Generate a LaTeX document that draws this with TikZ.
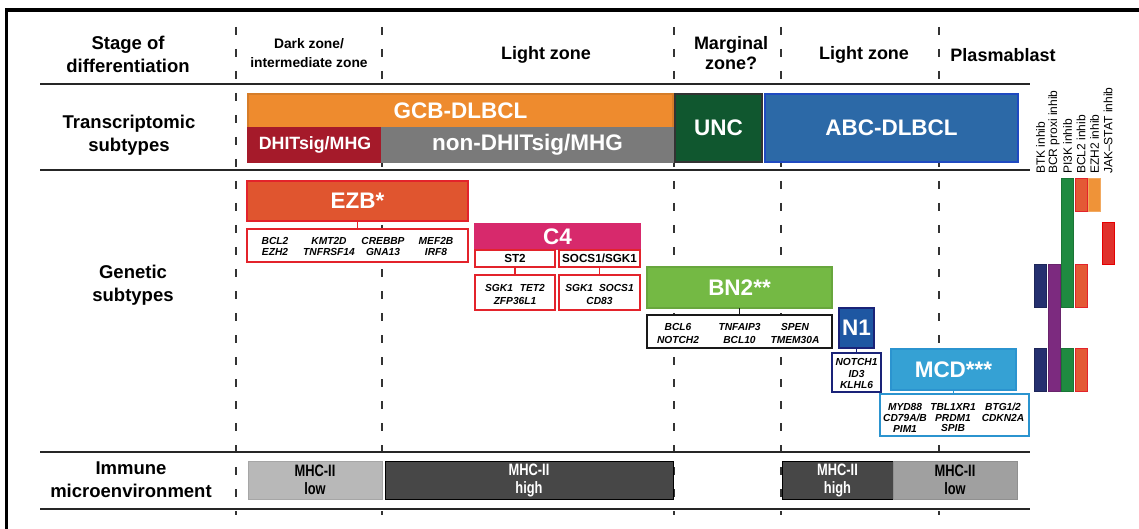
\documentclass[tikz,border=0pt]{standalone}
\usepackage{fontspec}
\setmainfont{Liberation Sans}
\newfontfamily\narrowfont[FakeStretch=0.78]{Liberation Sans}
\definecolor{cGCB}{HTML}{EE8B2E}
\definecolor{cDHIT}{HTML}{A51A2A}
\definecolor{cNon}{HTML}{7A7A7A}
\definecolor{cUNC}{HTML}{10572F}
\definecolor{cABC}{HTML}{2C69A7}
\definecolor{cEZB}{HTML}{E0552F}
\definecolor{cRed}{HTML}{E3232B}
\definecolor{cC4}{HTML}{D7296C}
\definecolor{cBN2}{HTML}{74B944}
\definecolor{cN1}{HTML}{1E57A2}
\definecolor{cNavy}{HTML}{1A2378}
\definecolor{cMCD}{HTML}{35A1D4}
\definecolor{cMCDb}{HTML}{2B94CF}
\definecolor{cLow}{HTML}{B8B8B8}
\definecolor{cHigh}{HTML}{474747}
\definecolor{cLowB}{HTML}{A0A0A0}
\definecolor{cBTK}{HTML}{25306F}
\definecolor{cBCR}{HTML}{7C2A7F}
\definecolor{cPI}{HTML}{1F8A40}
\definecolor{cBCL}{HTML}{E45935}
\definecolor{cEZH}{HTML}{EF9338}
\definecolor{cJAK}{HTML}{E0312C}
\tikzset{
  rowlab/.style={font=\fontsize{18.5}{23}\selectfont\bfseries, align=center, inner sep=0},
  zonelab/.style={font=\fontsize{18}{19}\selectfont\bfseries, align=center, inner sep=0},
  zonesmall/.style={font=\fontsize{13.8}{19}\selectfont\bfseries, align=center, inner sep=0},
  blk/.style={rectangle, inner sep=0, outer sep=0, line width=1.2pt, text=white,
              font=\fontsize{22.5}{25}\selectfont\bfseries},
  gbox/.style={rectangle, draw, fill=white, inner sep=0, outer sep=0, line width=1.6pt},
  subbox/.style={rectangle, draw=cRed, fill=white, inner sep=0, outer sep=0, line width=1.6pt,
                 font=\fontsize{11.7}{12}\selectfont\bfseries},
  gene/.style={font=\fontsize{10.2}{11.5}\selectfont\bfseries\itshape, align=center, inner sep=0},
  conn/.style={line width=1.5pt},
  hline/.style={line width=1.8pt, black!85},
  vdash/.style={line width=1.2pt, black!80, dash pattern=on 8pt off 14pt},
  drug/.style={font=\fontsize{12}{13}\selectfont, rotate=90, anchor=west, inner sep=0},
  bar/.style={line width=1pt},
  mhc/.style={rectangle, inner sep=0, outer sep=0, line width=1pt, align=center,
              font=\narrowfont\fontsize{16.5}{18}\selectfont\bfseries}
}
\begin{document}
\begin{tikzpicture}[x=1pt,y=-1pt]
\useasboundingbox (0,0) rectangle (1139,529);
% frame
\draw[line width=3.5pt, line join=miter] (6.5,529) -- (6.5,10) -- (1139,10);
% dashed zone separators
\foreach \xx in {236,382,674,781,939}
  \draw[vdash] (\xx,27) -- (\xx,515);
% horizontal rules
\draw[hline] (40,84) -- (1030,84);
\draw[hline] (40,170) -- (1030,170);
\draw[hline] (40,452) -- (1030,452);
\draw[hline] (40,509) -- (1030,509);

% header
\node[rowlab] (hstage) at (128,54) {Stage of\\differentiation};
\node[zonesmall] (hdark) at (309,53) {Dark zone/\\intermediate zone};
\node[zonelab] (hlight1) at (546,55) {Light zone};
\node[zonelab, font=\fontsize{18}{19.5}\selectfont\bfseries] (hmarg) at (731,53) {Marginal\\zone?};
\node[zonelab] (hlight2) at (864,55) {Light zone};
\node[zonelab] (hplasma) at (1003,55) {Plasmablast};

% transcriptomic row
\node[rowlab] (htrans) at (129,135) {Transcriptomic\\subtypes};
\node[blk, fill=cGCB, draw=cGCB!90!black, minimum width=425, minimum height=34] (gcb) at (460.5,111) {GCB-DLBCL};
\node[blk, fill=cDHIT, draw=cDHIT, minimum width=134, minimum height=34,
      font=\fontsize{17.8}{20}\selectfont\bfseries] (dhit) at (315,145) {DHITsig/MHG};
\node[blk, fill=cNon, draw=cNon, minimum width=291, minimum height=34] (nondhit) at (527.5,145) {non-DHITsig/MHG};
\node[blk, fill=cUNC, draw=black!80, minimum width=87, minimum height=68] (unc) at (718.5,128) {UNC};
\node[blk, fill=cABC, draw=cABC!70!blue, minimum width=253, minimum height=68] (abc) at (891.5,128) {ABC-DLBCL};

% genetic row
\node[rowlab] (hgen) at (133,285) {Genetic\\subtypes};

\node[blk, fill=cEZB, draw=cRed, minimum width=221, minimum height=40] (ezb) at (357.5,201) {EZB*};
\node[gbox, draw=cRed, minimum width=221, minimum height=33] (ezbg) at (357.5,245.5) {};
\draw[conn, cRed] (ezb.south) -- (ezbg.north);
\node[gene] (ezb1) at (275,246.3) {BCL2\\EZH2};
\node[gene] (ezb2) at (329,246.3) {KMT2D\\TNFRSF14};
\node[gene] (ezb3) at (383,246.3) {CREBBP\\GNA13};
\node[gene] (ezb4) at (436,246.3) {MEF2B\\IRF8};

\node[blk, fill=cC4, draw=cC4, minimum width=165, minimum height=25] (c4) at (557.5,236.5) {C4};
\node[subbox, minimum width=80, minimum height=17] (st2) at (515,258.5) {ST2};
\node[subbox, minimum width=81, minimum height=17] (socs) at (599.5,258.5) {SOCS1/SGK1};
\node[gbox, draw=cRed, minimum width=80, minimum height=35] (st2g) at (515,292.5) {};
\node[gbox, draw=cRed, minimum width=81, minimum height=35] (socsg) at (599.5,292.5) {};
\draw[conn, cRed] (st2.south) -- (st2g.north);
\draw[conn, cRed] (socs.south) -- (socsg.north);
\node[gene, font=\fontsize{10.2}{13.3}\selectfont\bfseries\itshape] (st2t) at (515,294.5) {SGK1\hspace{7pt}TET2\\ZFP36L1};
\node[gene, font=\fontsize{10.2}{13.3}\selectfont\bfseries\itshape] (socst) at (599.5,294.5) {SGK1\hspace{6pt}SOCS1\\CD83};

\node[blk, fill=cBN2, draw=cBN2!90!black, minimum width=185, minimum height=41] (bn2) at (739.5,287.5) {BN2**};
\node[gbox, draw=black!90, minimum width=185, minimum height=33] (bn2g) at (739.5,331.5) {};
\draw[conn, black!90] (bn2.south) -- (bn2g.north);
\node[gene, font=\fontsize{10.2}{13.3}\selectfont\bfseries\itshape] (bn21) at (678,333.3) {BCL6\\NOTCH2};
\node[gene, font=\fontsize{10.2}{13.3}\selectfont\bfseries\itshape] (bn22) at (739.5,333.3) {TNFAIP3\\BCL10};
\node[gene, font=\fontsize{10.2}{13.3}\selectfont\bfseries\itshape] (bn23) at (795,333.3) {SPEN\\TMEM30A};

\node[blk, fill=cN1, draw=cNavy, minimum width=35, minimum height=40] (n1) at (856.5,328) {N1};
\node[gbox, draw=cNavy, minimum width=49, minimum height=39] (n1g) at (856.5,372.5) {};
\draw[conn, cNavy] (n1.south) -- (n1g.north);
\node[gene, font=\fontsize{10.2}{11.7}\selectfont\bfseries\itshape] (n1t) at (856.5,373.5) {NOTCH1\\ID3\\KLHL6};

\node[blk, fill=cMCD, draw=cMCDb, minimum width=125, minimum height=41] (mcd) at (953.5,369.5) {MCD***};
\node[gbox, draw=cMCDb, minimum width=149, minimum height=42] (mcdg) at (954.5,415) {};
\draw[conn, cMCDb] (mcd.south) -- (mcd.south |- mcdg.north);
\node[gene, font=\fontsize{10.2}{10.8}\selectfont\bfseries\itshape] (mcd1) at (905,417.7) {MYD88\\CD79A/B\\PIM1};
\node[gene, font=\fontsize{10.2}{10.8}\selectfont\bfseries\itshape] (mcd2) at (953,417.7) {TBL1XR1\\PRDM1\\SPIB};
\node[gene, font=\fontsize{10.2}{10.8}\selectfont\bfseries\itshape] (mcd3) at (1003,412.3) {BTG1/2\\CDKN2A};

% drug columns
\node[drug] (dbtk) at (1040.5,174) {BTK inhib};
\node[drug] (dbcr) at (1054,174) {BCR proxi inhib};
\node[drug] (dpi) at (1067.5,174) {PI3K inhib};
\node[drug] (dbcl) at (1081,174) {BCL2 inhib};
\node[drug] (dezh) at (1094.5,174) {EZH2 inhib};
\node[drug] (djak) at (1108,174) {JAK--STAT inhib};
\filldraw[bar, fill=cBTK, draw=cBTK!80!black] (1034.5,264) rectangle (1046.5,307);
\filldraw[bar, fill=cBTK, draw=cBTK!80!black] (1034.5,348) rectangle (1046.5,391);
\filldraw[bar, fill=cBCR, draw=cBCR!85!black] (1048,264) rectangle (1060,391);
\filldraw[bar, fill=cPI, draw=cPI!85!black] (1061.5,179) rectangle (1073.5,307);
\filldraw[bar, fill=cPI, draw=cPI!85!black] (1061.5,348) rectangle (1073.5,391);
\filldraw[bar, fill=cBCL, draw=cRed] (1075,179) rectangle (1087,212);
\filldraw[bar, fill=cBCL, draw=cRed] (1075,264) rectangle (1087,307);
\filldraw[bar, fill=cBCL, draw=cRed] (1075,348) rectangle (1087,391);
\filldraw[bar, fill=cEZH, draw=cEZH!80!white] (1088.5,179) rectangle (1100.5,212);
\filldraw[bar, fill=cJAK, draw=red!90!black] (1102,223) rectangle (1114,264);

% immune row
\node[rowlab] (himm) at (131,480) {Immune\\microenvironment};
\node[mhc, fill=cLow, draw=cLow!90!black, minimum width=134, minimum height=38] (low1) at (315,480) {MHC-II\\low};
\node[mhc, fill=cHigh, draw=black, text=white, minimum width=288, minimum height=38] (high1) at (529,480) {MHC-II\\high};
\node[mhc, fill=cHigh, draw=black, text=white, minimum width=111, minimum height=38] (high2) at (837.5,480) {MHC-II\\high};
\node[mhc, fill=cLowB, draw=cLowB!90!black, minimum width=124, minimum height=38] (low2) at (955,480) {MHC-II\\low};
\end{tikzpicture}
\end{document}
